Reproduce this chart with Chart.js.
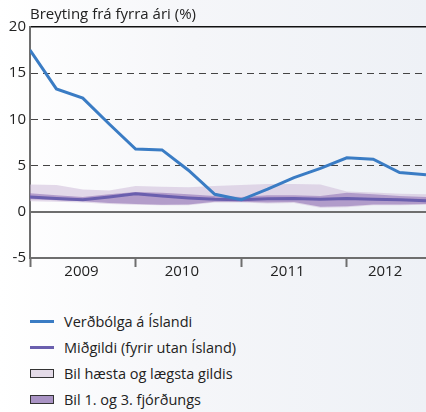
<!DOCTYPE html>
<html><head><meta charset="utf-8">
<script src="https://cdn.jsdelivr.net/npm/chart.js@4"></script>
<style>
html,body{margin:0;padding:0;}
body{width:426px;height:412px;overflow:hidden;position:relative;
 background:linear-gradient(to right,#ffffff 0%,#f5f6f9 45%,#eef1f6 100%);
 font-family:'Open Sans',sans-serif;color:#222;}
#wrap{position:absolute;left:0;top:0;width:426px;height:282px}
#legend{position:absolute;left:30px;top:308px;font-size:14.5px}
.item{height:26px;display:flex;align-items:center;white-space:nowrap}
.sw{width:24px;margin-right:10px;box-sizing:border-box;flex:none}
</style></head>
<body>
<div id="wrap"><canvas id="c"></canvas></div>
<div id="legend"></div>
<script>
const titleText = 'Breyting frá fyrra ári (%)';
const quarters = ['2009 Q1','2009 Q2','2009 Q3','2009 Q4','2010 Q1','2010 Q2','2010 Q3','2010 Q4',
                  '2011 Q1','2011 Q2','2011 Q3','2011 Q4','2012 Q1','2012 Q2','2012 Q3','2012 Q4'];
const years = ['2009','2010','2011','2012'];
const yearLabelPos = [1.95, 5.75, 9.75, 13.45];
const yearBounds = [0, 4, 8, 12];
const iceland = [17.5, 13.3, 12.3, 9.5, 6.8, 6.7, 4.5, 1.9, 1.3, 2.45, 3.7, 4.7, 5.85, 5.7, 4.25, 4.0];
const median  = [1.6, 1.45, 1.3, 1.6, 1.95, 1.7, 1.5, 1.35, 1.3, 1.4, 1.45, 1.35, 1.45, 1.35, 1.3, 1.2];
const maxVal  = [2.95, 2.9, 2.4, 2.3, 2.8, 2.7, 2.65, 2.8, 2.9, 3.0, 3.0, 2.95, 2.2, 2.1, 1.95, 1.9];
const minVal  = [1.15, 1.1, 1.0, 0.85, 0.75, 0.7, 0.7, 1.0, 1.0, 0.9, 0.95, 0.45, 0.5, 0.7, 0.7, 0.75];
const q3Val   = [2.0, 1.8, 1.6, 1.9, 2.15, 2.05, 1.9, 1.7, 1.6, 1.8, 1.8, 1.7, 2.05, 1.9, 1.7, 1.6];
const q1Val   = [1.35, 1.25, 1.15, 0.95, 0.85, 0.75, 0.8, 1.1, 1.1, 1.0, 1.05, 0.55, 0.6, 0.8, 0.8, 0.85];
const yTicks = [-5, 0, 5, 10, 15, 20];
const seriesNames = ['Verðbólga á Íslandi','Miðgildi (fyrir utan Ísland)','Bil hæsta og lægsta gildis','Bil 1. og 3. fjórðungs'];

const BLUE = '#3a7cc4', PURPLE = '#6a5fae';
const LIGHT = 'rgba(205,188,216,0.55)', DARK = 'rgba(140,110,178,0.55)';
const pts = arr => arr.map((v,i)=>({x:i, y:v}));

const titlePlugin = {
  id:'titleTxt',
  afterDraw(chart){
    const c = chart.ctx;
    c.save();
    c.font = '15px "Open Sans"';
    c.fillStyle = '#222';
    c.textBaseline = 'middle';
    c.textAlign = 'left';
    c.fillText(titleText, chart.chartArea.left, 15);
    c.restore();
  }
};

new Chart(document.getElementById('c'), {
  type:'line',
  data:{
    labels: quarters,
    datasets:[
      {label:seriesNames[0], data:pts(iceland), borderColor:BLUE, borderWidth:3, pointRadius:0, tension:0, fill:false},
      {label:seriesNames[1], data:pts(median), borderColor:PURPLE, borderWidth:3, pointRadius:0, tension:0, fill:false},
      {label:seriesNames[3], data:pts(q3Val), borderWidth:0, borderColor:'rgba(0,0,0,0)', pointRadius:0, tension:0, fill:'+1', backgroundColor:DARK},
      {label:'q1', data:pts(q1Val), borderWidth:0, borderColor:'rgba(0,0,0,0)', pointRadius:0, tension:0, fill:false},
      {label:seriesNames[2], data:pts(maxVal), borderWidth:0, borderColor:'rgba(0,0,0,0)', pointRadius:0, tension:0, fill:'+1', backgroundColor:LIGHT},
      {label:'min', data:pts(minVal), borderWidth:0, borderColor:'rgba(0,0,0,0)', pointRadius:0, tension:0, fill:false}
    ]
  },
  options:{
    responsive:true, maintainAspectRatio:false, animation:false,
    layout:{padding:{top:27,right:0,left:0,bottom:0}},
    plugins:{legend:{display:false}, tooltip:{enabled:false}},
    scales:{
      x:{type:'linear', min:0, max:15,
        afterBuildTicks: s => {
          const vals = [...yearBounds, ...yearLabelPos].sort((a,b)=>a-b);
          s.ticks = vals.map(v=>({value:v}));
        },
        afterFit: s => { s.height = 24; },
        ticks:{autoSkip:false, maxRotation:0, minRotation:0, padding:-4, color:'#222',
          font:{family:'"Open Sans"', size:15},
          callback:(v)=>{ const k = yearLabelPos.indexOf(v); return k>=0 ? years[k] : ''; }},
        grid:{drawOnChartArea:false, tickLength:9, tickWidth:2,
          tickColor: ctx => (ctx.tick && yearBounds.includes(ctx.tick.value)) ? '#6e6e6e' : 'rgba(0,0,0,0)'},
        border:{color:'#6e6e6e', width:2}
      },
      y:{min:-5, max:20,
        afterBuildTicks: s => { s.ticks = yTicks.map(v=>({value:v})); },
        afterFit: s => { s.width = 30; },
        ticks:{padding:4, color:'#222', font:{family:'"Open Sans"', size:15}},
        grid:{drawTicks:false,
          color: ctx => { const v = ctx.tick ? ctx.tick.value : null;
            if (v===20) return '#111'; if (v===0) return '#6e6e6e'; if (v===-5) return 'rgba(0,0,0,0)'; return '#444'; },
          lineWidth: ctx => { const v = ctx.tick ? ctx.tick.value : null;
            if (v===0) return 2; if (v===20) return 1.6; return 1.1; }},
        border:{color:'#6e6e6e', width:2,
          dash: ctx => (ctx.tick && [5,10,15].includes(ctx.tick.value)) ? [7,5] : []}
      }
    }
  },
  plugins:[titlePlugin]
});

const legendItems = [
  {name:seriesNames[0], type:'line', color:BLUE},
  {name:seriesNames[1], type:'line', color:PURPLE},
  {name:seriesNames[2], type:'box', color:'#e4dbe8'},
  {name:seriesNames[3], type:'box', color:'#a993c4'}
];
const lg = document.getElementById('legend');
legendItems.forEach(it=>{
  const d = document.createElement('div'); d.className='item';
  const s = document.createElement('span'); s.className='sw';
  if (it.type==='line'){ s.style.height='3px'; s.style.background=it.color; }
  else { s.style.height='9px'; s.style.background=it.color; s.style.border='1.3px solid #333'; }
  const t = document.createElement('span'); t.textContent = it.name;
  d.appendChild(s); d.appendChild(t); lg.appendChild(d);
});
</script>
</body></html>
